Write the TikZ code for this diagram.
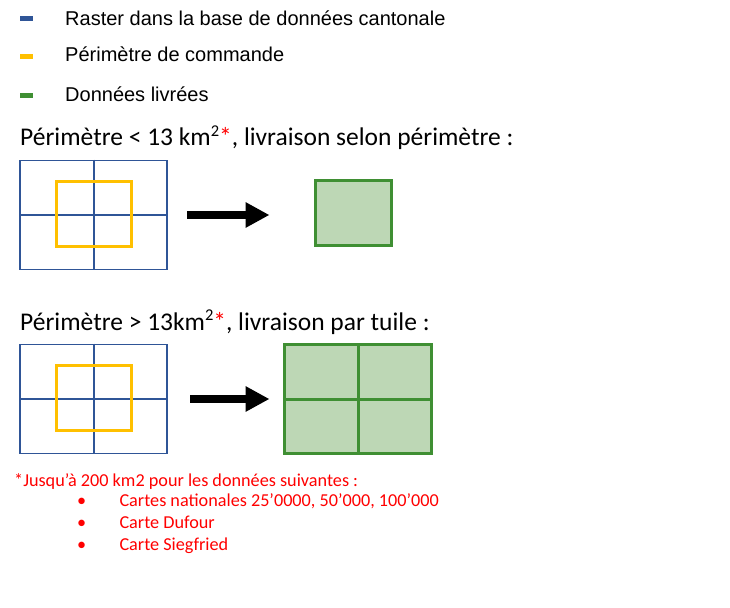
\documentclass[tikz,border=0pt]{standalone}
\usepackage{fontspec}
\setmainfont{Carlito}
\newfontfamily\arialf{Liberation Sans}
\usetikzlibrary{arrows.meta}
\definecolor{gridblue}{HTML}{2F5597}
\definecolor{peryellow}{HTML}{FFC000}
\definecolor{dgreen}{HTML}{3F8F33}
\definecolor{lgreen}{HTML}{BDD7B5}
\definecolor{fnred}{HTML}{FF0000}
\newcommand{\supsq}{\raisebox{0.36em}{\fontsize{16.5}{16.5}\selectfont 2}}
\begin{document}
\begin{tikzpicture}[x=1pt,y=-1pt,
  legtext/.style={anchor=base west,inner sep=0,font=\arialf\fontsize{20}{24}\selectfont},
  headtext/.style={anchor=base west,inner sep=0,font=\fontsize{25.5}{30}\selectfont},
  fntext/.style={anchor=base west,inner sep=0,text=fnred,font=\fontsize{18.2}{21}\selectfont},
  legdash/.style={fill=#1,draw=none,minimum width=13.5pt,minimum height=5pt,inner sep=0},
  bluegrid/.style={draw=gridblue,line width=1.7pt,minimum width=147pt,minimum height=109pt,inner sep=0},
  blueline/.style={draw=gridblue,line width=1.7pt},
  perim/.style={draw=peryellow,line width=3pt,minimum width=75pt,minimum height=65pt,inner sep=0},
  greenbox/.style={draw=dgreen,fill=lgreen,line width=3pt,inner sep=0},
  greenline/.style={draw=dgreen,line width=3pt},
  bigarrow/.style={line width=8.7pt,-{Triangle[length=24pt,width=24pt]}}
]
\useasboundingbox (0,0) rectangle (730,607);

% legend
\node[legdash=gridblue] (d1) at (26.7,18.7) {};
\node[legdash=peryellow] (d2) at (26.7,57) {};
\node[legdash=dgreen] (d3) at (26.7,95.5) {};
\node[legtext] (l1) at (65,26) {Raster dans la base de données cantonale};
\node[legtext] (l2) at (65,62) {Périmètre de commande};
\node[legtext] (l3) at (65,101.5) {Données livrées};

% heading 1
\node[headtext] (h1) at (20,146) {Périmètre < 13 km\supsq{\color{fnred}*}, livraison selon périmètre :};

% case 1
\node[bluegrid] (g1) at (93.8,215) {};
\draw[blueline] (g1.north) -- (g1.south);
\draw[blueline] (g1.west) -- (g1.east);
\node[perim] (p1) at (93.5,213.5) {};
\coordinate (a1s) at (187.3,215);
\coordinate (a1e) at (269.5,215);
\draw[bigarrow] (a1s) -- (a1e);
\node[greenbox,minimum width=76pt,minimum height=65pt] (r1) at (353,213) {};

% heading 2
\node[headtext] (h2) at (20,330) {Périmètre > 13km\supsq{\color{fnred}*}, livraison par tuile :};

% case 2
\node[bluegrid] (g2) at (93.8,399) {};
\draw[blueline] (g2.north) -- (g2.south);
\draw[blueline] (g2.west) -- (g2.east);
\node[perim] (p2) at (93.5,397.5) {};
\coordinate (a2s) at (190,399);
\coordinate (a2e) at (269.5,399);
\draw[bigarrow] (a2s) -- (a2e);
\node[greenbox,minimum width=147.5pt,minimum height=108.5pt] (r2) at (358,399) {};
\draw[greenline] (r2.north) -- (r2.south);
\draw[greenline] (r2.west) -- (r2.east);

% footnote
\node[fntext] (f0) at (14,486) {*Jusqu’à 200 km2 pour les données suivantes :};
\node[fntext] (b1) at (77,506.7) {•};
\node[fntext] (t1) at (119.3,506.7) {Cartes nationales 25’0000, 50’000, 100’000};
\node[fntext] (b2) at (77,528) {•};
\node[fntext] (t2) at (119.3,528) {Carte Dufour};
\node[fntext] (b3) at (77,550) {•};
\node[fntext] (t3) at (119.3,550) {Carte Siegfried};
\end{tikzpicture}
\end{document}
